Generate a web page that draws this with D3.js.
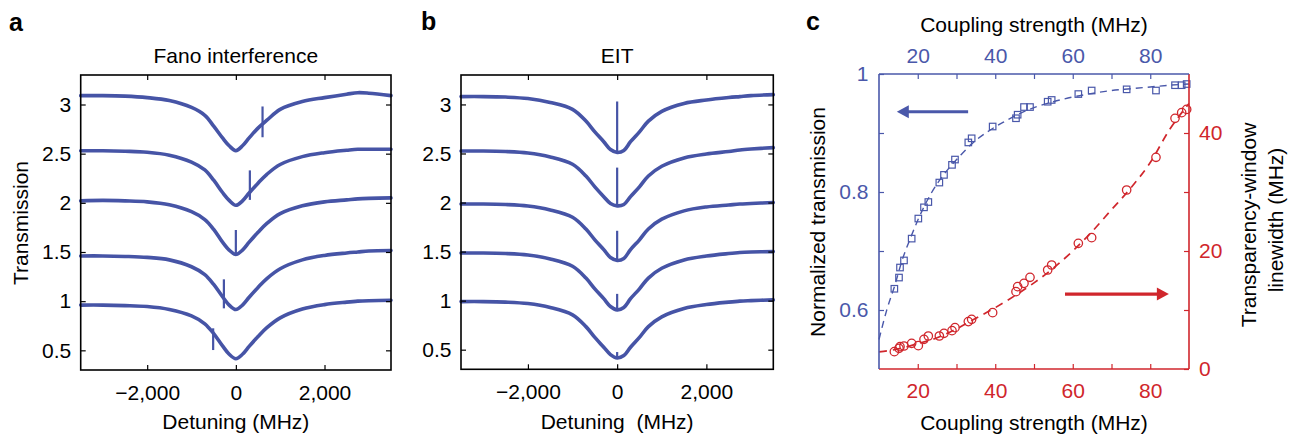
<!DOCTYPE html>
<html><head><meta charset="utf-8">
<script src="https://cdn.jsdelivr.net/npm/d3@7"></script>
<style>
html,body{margin:0;padding:0;background:#fff;}
svg text{font-family:"Liberation Sans", Arial, Helvetica, sans-serif;}
</style></head><body>
<svg id="chart" width="1291" height="434"></svg>
<script>
// ---------------- DATA ----------------
const detuning = [-3500,-3000,-2500,-2000,-1500,-1000,-700,-500,-300,-150,0,150,300,500,700,1000,1500,2000,2500,2750,3000,3500];
const detuningTicks = [-2000, 0, 2000];
const transmissionTicks = [0.5, 1, 1.5, 2, 2.5, 3];

// Panel a: Fano interference traces (top to bottom)
const fano1 = [3.09,3.09,3.085,3.07,3.04,2.97,2.89,2.78,2.66,2.58,2.53,2.58,2.66,2.76,2.84,2.95,3.03,3.07,3.105,3.12,3.115,3.09];
const fano2 = [2.53,2.53,2.525,2.515,2.485,2.415,2.335,2.23,2.105,2.025,1.975,2.02,2.10,2.20,2.29,2.39,2.47,2.51,2.535,2.545,2.545,2.545];
const fano3 = [2.02,2.025,2.02,2.01,1.98,1.91,1.83,1.73,1.60,1.52,1.475,1.52,1.60,1.70,1.79,1.89,1.97,2.01,2.03,2.04,2.045,2.05];
const fano4 = [1.46,1.46,1.455,1.445,1.42,1.35,1.27,1.17,1.045,0.96,0.915,0.96,1.04,1.14,1.23,1.33,1.42,1.465,1.49,1.50,1.51,1.515];
const fano5 = [0.96,0.96,0.955,0.945,0.915,0.85,0.77,0.67,0.545,0.46,0.415,0.46,0.54,0.64,0.73,0.83,0.92,0.965,0.99,1.0,1.005,1.01];
// Fano features: detuning, upper end, lower end
const fanoSpikeX = [602, 316, 0, -270, -512];
const fanoSpikeTop = [2.98, 2.33, 1.724, 1.222, 0.724];
const fanoSpikeBottom = [2.667, 2.03, 1.47, 0.927, 0.503];

// Panel b: EIT traces (top to bottom)
const eit1 = [3.08,3.08,3.075,3.06,3.02,2.95,2.83,2.72,2.62,2.54,2.51,2.53,2.62,2.72,2.83,2.93,3.01,3.045,3.07,3.08,3.09,3.10];
const eit2 = [2.525,2.525,2.52,2.505,2.465,2.39,2.27,2.16,2.06,1.99,1.966,1.98,2.06,2.16,2.27,2.37,2.455,2.495,2.52,2.535,2.545,2.56];
const eit3 = [1.985,1.985,1.98,1.965,1.925,1.85,1.73,1.62,1.52,1.44,1.41,1.43,1.52,1.62,1.73,1.83,1.915,1.955,1.975,1.985,1.99,2.0];
const eit4 = [1.485,1.485,1.48,1.465,1.425,1.35,1.23,1.12,1.02,0.94,0.906,0.93,1.02,1.12,1.23,1.33,1.415,1.455,1.48,1.49,1.495,1.50];
const eit5 = [0.99,0.99,0.985,0.97,0.93,0.855,0.735,0.625,0.525,0.45,0.415,0.44,0.525,0.625,0.735,0.835,0.92,0.96,0.985,0.995,1.0,1.008];
const eitSpikeX = [0, 0, 0, 0, 0];
const eitSpikeTop = [3.03, 2.356, 1.712, 1.069, 0.476];
const eitSpikeBase = [2.51, 1.966, 1.41, 0.906, 0.415];

// Panel c
const coupling = [13.96,15.16,15.42,16.45,18.43,20.15,21.61,22.73,25.57,26.77,28.84,29.61,33.05,33.91,39.33,45.35,45.78,47.42,48.97,53.53,54.56,61.44,64.88,73.91,81.48,86.39,88.11,89.4];
const normTransmission = [0.636,0.655,0.672,0.684,0.721,0.755,0.774,0.783,0.816,0.829,0.846,0.855,0.884,0.891,0.911,0.925,0.931,0.944,0.944,0.953,0.956,0.966,0.972,0.974,0.972,0.981,0.981,0.983];
const linewidth = [2.94,3.50,3.79,3.90,4.35,3.96,5.03,5.59,5.59,6.05,6.50,7.01,8.03,8.42,9.55,13.11,13.96,14.52,15.54,16.78,17.63,21.3,22.26,30.34,35.88,42.49,43.45,44.0];
const fitTransX = [10,12,14,16,18,20,22,25,28,31,34,38,42,46,50,55,60,65,70,75,80,85,90];
const fitTransY = [0.55,0.60,0.64,0.685,0.72,0.752,0.78,0.814,0.84,0.862,0.882,0.902,0.918,0.932,0.943,0.953,0.961,0.967,0.972,0.975,0.978,0.981,0.983];
const fitWidthX = [10,15,20,25,30,35,40,45,50,55,60,65,70,75,80,85,90];
const fitWidthY = [2.9,3.4,4.3,5.3,6.8,8.6,10.4,12.4,14.6,17.1,20.0,23.3,27.0,30.7,35.0,40.6,45.0];
const couplingTicks = [20,30,40,50,60,70,80];
const couplingLabels = [20,40,60,80];
const transTicksC = [0.6,0.7,0.8,0.9,1];
const transLabelsC = [0.6,0.8,1];
const widthTicks = [0,10,20,30,40];
const widthLabels = [0,20,40];

// ---------------- STYLE ----------------
const BLUE = "#4654a6";
const CBLUE = "#4a58aa";
const RED = "#d0262c";
const FS = 21;

const svg = d3.select("#chart");
svg.append("rect").attr("width",1291).attr("height",434).attr("fill","#fff");

function styleAxis(g, color) {
  g.select(".domain").remove();
  g.attr("font-family", null).attr("font-size", FS).attr("color", color);
  g.selectAll(".tick line").attr("stroke-width", 1.2);
  g.selectAll(".tick text").attr("fill", color);
}

function detuningPanel(xr, yr, traces, spikeX, spikeA, spikeB, title) {
  const x = d3.scaleLinear([-3500, 3500], xr);
  const y = d3.scaleLinear([0.3, 3.3], yr);
  const g = svg.append("g");
  const line = d3.line().x((d, i) => x(detuning[i])).y(d => y(d)).curve(d3.curveCatmullRom.alpha(0.5));
  traces.forEach(t => g.append("path").attr("d", line(t)).attr("fill", "none")
    .attr("stroke", BLUE).attr("stroke-width", 3.6).attr("stroke-linejoin", "round").attr("stroke-linecap", "round"));
  spikeX.forEach((sx, i) => g.append("line")
    .attr("x1", x(sx)).attr("x2", x(sx)).attr("y1", y(spikeA[i])).attr("y2", y(spikeB[i]))
    .attr("stroke", BLUE).attr("stroke-width", 2.2));

  g.append("g").attr("transform", `translate(${xr[0]},0)`)
    .call(d3.axisLeft(y).tickValues(transmissionTicks).tickSizeInner(-5).tickSizeOuter(0).tickPadding(9.5).tickFormat(d => String(d)))
    .call(a => styleAxis(a, "#000"));
  g.append("g").attr("transform", `translate(${xr[1]},0)`)
    .call(d3.axisRight(y).tickValues(transmissionTicks).tickSizeInner(-5).tickSizeOuter(0).tickFormat(""))
    .call(a => styleAxis(a, "#000"));
  g.append("g").attr("transform", `translate(0,${yr[0]})`)
    .call(d3.axisBottom(x).tickValues(detuningTicks).tickSizeInner(-5).tickSizeOuter(0).tickPadding(15).tickFormat(d3.format(",")))
    .call(a => styleAxis(a, "#000"));
  g.append("g").attr("transform", `translate(0,${yr[1]})`)
    .call(d3.axisTop(x).tickValues(detuningTicks).tickSizeInner(-5).tickSizeOuter(0).tickFormat(""))
    .call(a => styleAxis(a, "#000"));
  g.append("rect").attr("x", xr[0]).attr("y", yr[1]).attr("width", xr[1] - xr[0]).attr("height", yr[0] - yr[1])
    .attr("fill", "none").attr("stroke", "#000").attr("stroke-width", 1.6);
  const cx = (xr[0] + xr[1]) / 2;
  g.append("text").attr("x", cx).attr("y", 63).attr("text-anchor", "middle").attr("font-size", FS).text(title);
  return {x, y, cx};
}

const pa = detuningPanel([80.7, 391], [370, 75], [fano1, fano2, fano3, fano4, fano5], fanoSpikeX, fanoSpikeTop, fanoSpikeBottom, "Fano interference");
const pb = detuningPanel([461, 773.3], [369.3, 75], [eit1, eit2, eit3, eit4, eit5], eitSpikeX, eitSpikeTop, eitSpikeBase, "EIT");

svg.append("text").attr("x", pa.cx).attr("y", 429).attr("text-anchor", "middle").attr("font-size", FS).text("Detuning (MHz)");
svg.append("text").attr("x", pb.cx).attr("y", 429).attr("text-anchor", "middle").attr("font-size", FS)
  .style("white-space", "pre").text("Detuning  (MHz)");
svg.append("text").attr("transform", "translate(28,223) rotate(-90)").attr("text-anchor", "middle").attr("font-size", FS).text("Transmission");

// panel letters
[["a", 9, 31], ["b", 421, 30], ["c", 806, 30]].forEach(([t, lx, ly]) =>
  svg.append("text").attr("x", lx).attr("y", ly).attr("font-size", 25).attr("font-weight", "bold").text(t));

// ---------------- Panel c ----------------
const xC = d3.scaleLinear([10, 90], [879, 1189]);
const yL = d3.scaleLinear([0.5, 1.0], [369, 74]);
const yR = d3.scaleLinear([0, 50], [369, 74]);
const gc = svg.append("g");

gc.append("path").attr("d", d3.line().x(d => xC(d[0])).y(d => yL(d[1])).curve(d3.curveMonotoneX)(fitTransX.map((v, i) => [v, fitTransY[i]])))
  .attr("fill", "none").attr("stroke", CBLUE).attr("stroke-width", 1.4).attr("stroke-dasharray", "7,5");
gc.append("path").attr("d", d3.line().x(d => xC(d[0])).y(d => yR(d[1])).curve(d3.curveMonotoneX)(fitWidthX.map((v, i) => [v, fitWidthY[i]])))
  .attr("fill", "none").attr("stroke", RED).attr("stroke-width", 1.7).attr("stroke-dasharray", "8,6");

const sq = 6.5;
gc.selectAll("rect.sq").data(coupling).join("rect").attr("class", "sq")
  .attr("x", (d) => xC(d) - sq / 2).attr("y", (d, i) => yL(normTransmission[i]) - sq / 2)
  .attr("width", sq).attr("height", sq).attr("fill", "none").attr("stroke", CBLUE).attr("stroke-width", 1.2);
gc.selectAll("circle.ci").data(coupling).join("circle").attr("class", "ci")
  .attr("cx", d => xC(d)).attr("cy", (d, i) => yR(linewidth[i])).attr("r", 4.2)
  .attr("fill", "none").attr("stroke", RED).attr("stroke-width", 1.3);

// arrows
const blueArrow = {y: 0.936, from: 33.0, to: 14.6};
const redArrow = {y: 12.7, from: 58.0, to: 84.8};
function arrow(x1, x2, yy, color) {
  const dir = Math.sign(x2 - x1);
  const hl = 12, hw = 6.5;
  gc.append("line").attr("x1", x1).attr("x2", x2 - dir * hl + dir * 1).attr("y1", yy).attr("y2", yy)
    .attr("stroke", color).attr("stroke-width", 3.2);
  gc.append("path").attr("d", `M${x2},${yy} L${x2 - dir * hl},${yy - hw} L${x2 - dir * hl},${yy + hw} Z`).attr("fill", color);
}
arrow(xC(blueArrow.from), xC(blueArrow.to), yL(blueArrow.y), CBLUE);
arrow(xC(redArrow.from), xC(redArrow.to), yR(redArrow.y), RED);

// axes c
const fmtSel = (labels) => d => labels.includes(d) ? String(d) : "";
gc.append("g").attr("transform", "translate(879,0)")
  .call(d3.axisLeft(yL).tickValues(transTicksC).tickSizeInner(-5).tickSizeOuter(0).tickPadding(10.5).tickFormat(fmtSel(transLabelsC)))
  .call(a => styleAxis(a, CBLUE));
gc.append("g").attr("transform", "translate(1189,0)")
  .call(d3.axisRight(yR).tickValues(widthTicks).tickSizeInner(-5).tickSizeOuter(0).tickPadding(10).tickFormat(fmtSel(widthLabels)))
  .call(a => styleAxis(a, RED));
gc.append("g").attr("transform", "translate(0,369)")
  .call(d3.axisBottom(xC).tickValues(couplingTicks).tickSizeInner(-5).tickSizeOuter(0).tickPadding(14).tickFormat(fmtSel(couplingLabels)))
  .call(a => styleAxis(a, RED));
gc.append("g").attr("transform", "translate(0,74)")
  .call(d3.axisTop(xC).tickValues(couplingTicks).tickSizeInner(-5).tickSizeOuter(0).tickPadding(11).tickFormat(fmtSel(couplingLabels)))
  .call(a => styleAxis(a, CBLUE));
// frame
gc.append("line").attr("x1", 879).attr("x2", 1189).attr("y1", 369).attr("y2", 369).attr("stroke", RED).attr("stroke-width", 1.6);
gc.append("line").attr("x1", 1189).attr("x2", 1189).attr("y1", 74).attr("y2", 369).attr("stroke", RED).attr("stroke-width", 1.6);
gc.append("line").attr("x1", 879).attr("x2", 1189).attr("y1", 74).attr("y2", 74).attr("stroke", CBLUE).attr("stroke-width", 1.6);
gc.append("line").attr("x1", 879).attr("x2", 879).attr("y1", 74).attr("y2", 369).attr("stroke", CBLUE).attr("stroke-width", 1.6);

svg.append("text").attr("x", 1034).attr("y", 32).attr("text-anchor", "middle").attr("font-size", FS).text("Coupling strength (MHz)");
svg.append("text").attr("x", 1034).attr("y", 430).attr("text-anchor", "middle").attr("font-size", FS).text("Coupling strength (MHz)");
svg.append("text").attr("transform", "translate(825,222) rotate(-90)").attr("text-anchor", "middle").attr("font-size", FS).text("Normalized transmission");
svg.append("text").attr("transform", "translate(1256,225) rotate(-90)").attr("text-anchor", "middle").attr("font-size", FS).text("Transparency-window");
svg.append("text").attr("transform", "translate(1283,220) rotate(-90)").attr("text-anchor", "middle").attr("font-size", FS).text("linewidth (MHz)");
</script>
</body></html>
